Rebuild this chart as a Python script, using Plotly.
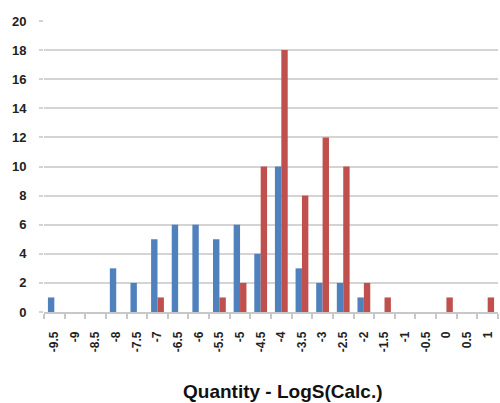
import plotly.graph_objects as go

categories = ["-9.5", "-9", "-8.5", "-8", "-7.5", "-7", "-6.5", "-6", "-5.5", "-5",
              "-4.5", "-4", "-3.5", "-3", "-2.5", "-2", "-1.5", "-1", "-0.5", "0", "0.5", "1"]
blue_vals = [1, 0, 0, 3, 2, 5, 6, 6, 5, 6, 4, 10, 3, 2, 2, 1, 0, 0, 0, 0, 0, 0]
red_vals = [0, 0, 0, 0, 0, 1, 0, 0, 1, 2, 10, 18, 8, 12, 10, 2, 1, 0, 0, 1, 0, 1]
y_ticks = [0, 2, 4, 6, 8, 10, 12, 14, 16, 18, 20]

W, H = 500, 403
L, R, T, B = 44, 2, 21, 91

fig = go.Figure()
fig.add_trace(go.Bar(x=categories, y=blue_vals, marker=dict(color="#4F81BD", line=dict(width=0)), name="A"))
fig.add_trace(go.Bar(x=categories, y=red_vals, marker=dict(color="#C0504D", line=dict(width=0)), name="B"))

fig.update_layout(
    width=W, height=H,
    margin=dict(l=L, r=R, t=T, b=B, pad=0),
    paper_bgcolor="white", plot_bgcolor="white",
    showlegend=False,
    barmode="group", bargap=0.38, bargroupgap=0,
    font=dict(family="Liberation Sans", color="#222222"),
)
fig.update_xaxes(
    type="category", tickangle=-90, tickson="boundaries", automargin=False,
    ticks="outside", ticklen=5, tickcolor="#c8c8c8", tickwidth=1.5,
    showline=True, linecolor="#c8c8c8", linewidth=1.5,
    showgrid=False, ticklabelstandoff=13,
    tickfont=dict(size=12, family="Liberation Sans", color="#222222", weight="bold"),
)
fig.update_yaxes(
    range=[0, 20], tickvals=y_ticks, automargin=False,
    showgrid=True, gridcolor="#d4d4d4", gridwidth=1.6,
    ticks="outside", ticklen=4, tickcolor="#d4d4d4", tickwidth=1.5,
    showline=False, zeroline=False, ticklabelstandoff=10,
    tickfont=dict(size=13, family="Liberation Sans", color="#222222", weight="bold"),
)
fig.add_annotation(
    text="<b>Quantity - LogS(Calc.)</b>",
    xref="paper", yref="paper",
    x=(283 - L) / (W - L - R), y=-(391 - (H - B)) / (H - T - B),
    xanchor="center", yanchor="middle", showarrow=False,
    font=dict(size=19, family="Liberation Sans", color="#111111"),
)
fig.write_html(
    "out.html",
    config={"displayModeBar": False},
    post_script="document.body.style.margin='0';document.body.style.overflow='hidden';",
)
